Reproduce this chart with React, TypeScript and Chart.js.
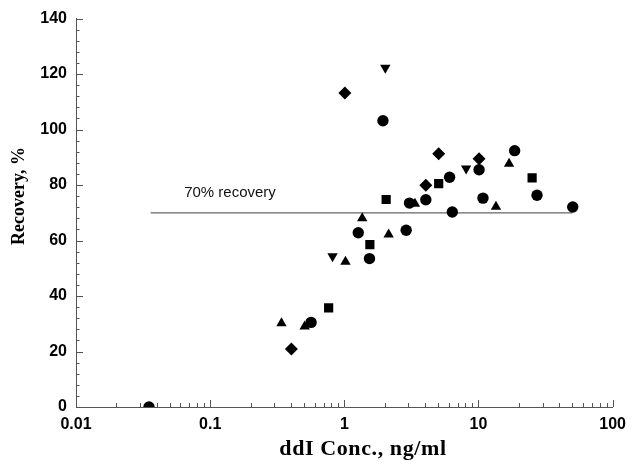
import React, { useEffect, useRef } from 'react';
import { Chart, registerables } from 'chart.js';
Chart.register(...registerables);

// ddI concentration (ng/ml) and recovery (%) per marker group
const circleX = [0.035, 0.565, 1.27, 1.54, 1.94, 2.89, 3.06, 4.05, 6.09, 6.38, 10.1, 10.8, 18.6, 27.3, 50.4];
const circleY = [0, 30.5, 62.8, 53.5, 103.2, 63.7, 73.5, 74.7, 82.8, 70.3, 85.5, 75.3, 92.4, 76.3, 72.1];
const squareX = [0.764, 1.55, 2.05, 5.05, 25.1];
const squareY = [35.7, 58.5, 74.8, 80.5, 82.6];
const triUpX = [0.34, 0.506, 1.02, 1.36, 2.14, 3.36, 13.5, 16.9];
const triUpY = [30.2, 29.0, 52.4, 68.0, 62.2, 73.3, 72.2, 87.7];
const triDownX = [0.817, 2.02, 8.09];
const triDownY = [54.3, 122.3, 86.0];
const diamondX = [0.403, 1.01, 4.05, 5.05, 10.1];
const diamondY = [20.9, 113.2, 79.9, 91.3, 89.5];

// 70% recovery reference line
const refLineX = [0.036, 50];
const refLineY = [70, 70];
const refLabel = '70% recovery';
const refLabelPos = { x: 0.064, y: 75.2 };

const xTickLabels = [0.01, 0.1, 1, 10, 100];
const yTickLabels = [0, 20, 40, 60, 80, 100, 120, 140];
const xTitle = 'ddI Conc., ng/ml';
const yTitle = 'Recovery, %';

export default function App() {
  const ref = useRef<HTMLCanvasElement>(null);
  useEffect(() => {
    document.body.style.margin = '0';
    const canvas = ref.current!;
    const toPts = (xs: number[], ys: number[]) => xs.map((x, i) => ({ x, y: ys[i] }));
    const markerDs = (label: string, xs: number[], ys: number[], style: string, radius: number, rotation = 0) => ({
      type: 'scatter' as const,
      label,
      data: toPts(xs, ys),
      pointStyle: style,
      pointRadius: radius,
      pointHoverRadius: radius,
      pointRotation: rotation,
      backgroundColor: '#000',
      borderColor: '#000',
      borderWidth: 0,
      showLine: false,
    });

    const decor = {
      id: 'decor',
      afterDraw(chart: any) {
        const ctx = chart.ctx as CanvasRenderingContext2D;
        const xs = chart.scales.x;
        const ys = chart.scales.y;
        const { left, bottom } = chart.chartArea;
        ctx.save();
        ctx.strokeStyle = '#555';
        ctx.lineWidth = 1;
        ctx.beginPath();
        // x ticks (inward)
        for (let d = 0; d < xTickLabels.length; d++) {
          const dec = xTickLabels[d];
          const last = d === xTickLabels.length - 1;
          for (let m = 1; m <= (last ? 1 : 9); m++) {
            const px = Math.round(xs.getPixelForValue(dec * m)) + 0.5;
            const len = m === 1 ? 7 : 4;
            ctx.moveTo(px, bottom);
            ctx.lineTo(px, bottom - len);
          }
        }
        // y ticks (inward)
        for (let v = 0; v <= 140; v += 4) {
          const py = Math.round(ys.getPixelForValue(v)) + 0.5;
          const len = v % 20 === 0 ? 7 : 3.5;
          ctx.moveTo(left, py);
          ctx.lineTo(left + len, py);
        }
        ctx.stroke();

        // reference label
        ctx.fillStyle = '#111';
        ctx.font = '15px "Liberation Sans", Arial, sans-serif';
        ctx.textAlign = 'left';
        ctx.textBaseline = 'alphabetic';
        ctx.fillText(refLabel, xs.getPixelForValue(refLabelPos.x), ys.getPixelForValue(refLabelPos.y) - 1);

        // axis titles
        ctx.fillStyle = '#000';
        ctx.textAlign = 'center';
        ctx.textBaseline = 'middle';
        ctx.font = 'bold 22px "Liberation Serif", "Times New Roman", serif';
        (ctx as any).letterSpacing = '0.6px';
        ctx.fillText(xTitle, 363, 449);
        (ctx as any).letterSpacing = '0px';
        ctx.font = 'bold 18px "Liberation Serif", "Times New Roman", serif';
        ctx.translate(19, 196);
        ctx.rotate(-Math.PI / 2);
        ctx.fillText(yTitle, 0, 0);
        ctx.restore();
      },
    };

    const tickFont = { family: '"Liberation Sans", Arial, sans-serif', size: 16, weight: 'bold' as const };

    const chart = new Chart(canvas, {
      type: 'scatter',
      data: {
        datasets: [
          markerDs('circle', circleX, circleY, 'circle', 5.7),
          markerDs('square', squareX, squareY, 'rect', 6.5),
          markerDs('triangle', triUpX, triUpY, 'triangle', 6),
          markerDs('triangle-down', triDownX, triDownY, 'triangle', 6, 180),
          markerDs('diamond', diamondX, diamondY, 'rectRot', 6.5),
          {
            type: 'line' as const,
            label: '70% recovery',
            data: toPts(refLineX, refLineY),
            borderColor: '#666',
            borderWidth: 1.3,
            pointRadius: 0,
            showLine: true,
            fill: false,
          },
        ] as any,
      },
      options: {
        responsive: false,
        animation: false,
        layout: { padding: { top: 18, right: 16, left: 0, bottom: 0 } },
        plugins: { legend: { display: false }, tooltip: { enabled: false } },
        scales: {
          x: {
            type: 'logarithmic',
            min: 0.01,
            max: 100,
            afterBuildTicks: (s: any) => { s.ticks = xTickLabels.map((v) => ({ value: v })); },
            afterFit: (s: any) => { s.height = 58; },
            grid: { display: false, drawTicks: false },
            border: { display: true, color: '#555', width: 1 },
            ticks: { autoSkip: false, maxRotation: 0, padding: 8, color: '#000', font: tickFont, callback: (v: any) => String(v) },
          },
          y: {
            type: 'linear',
            min: 0,
            max: 140,
            afterBuildTicks: (s: any) => { s.ticks = yTickLabels.map((v) => ({ value: v })); },
            afterFit: (s: any) => { s.width = 76; },
            grid: { display: false, drawTicks: false },
            border: { display: true, color: '#555', width: 1 },
            ticks: { padding: 9, color: '#000', font: tickFont, callback: (v: any) => String(v) },
          },
        },
      } as any,
      plugins: [decor],
    });
    return () => chart.destroy();
  }, []);
  return <canvas ref={ref} width={634} height={465} style={{ display: 'block' }} />;
}
